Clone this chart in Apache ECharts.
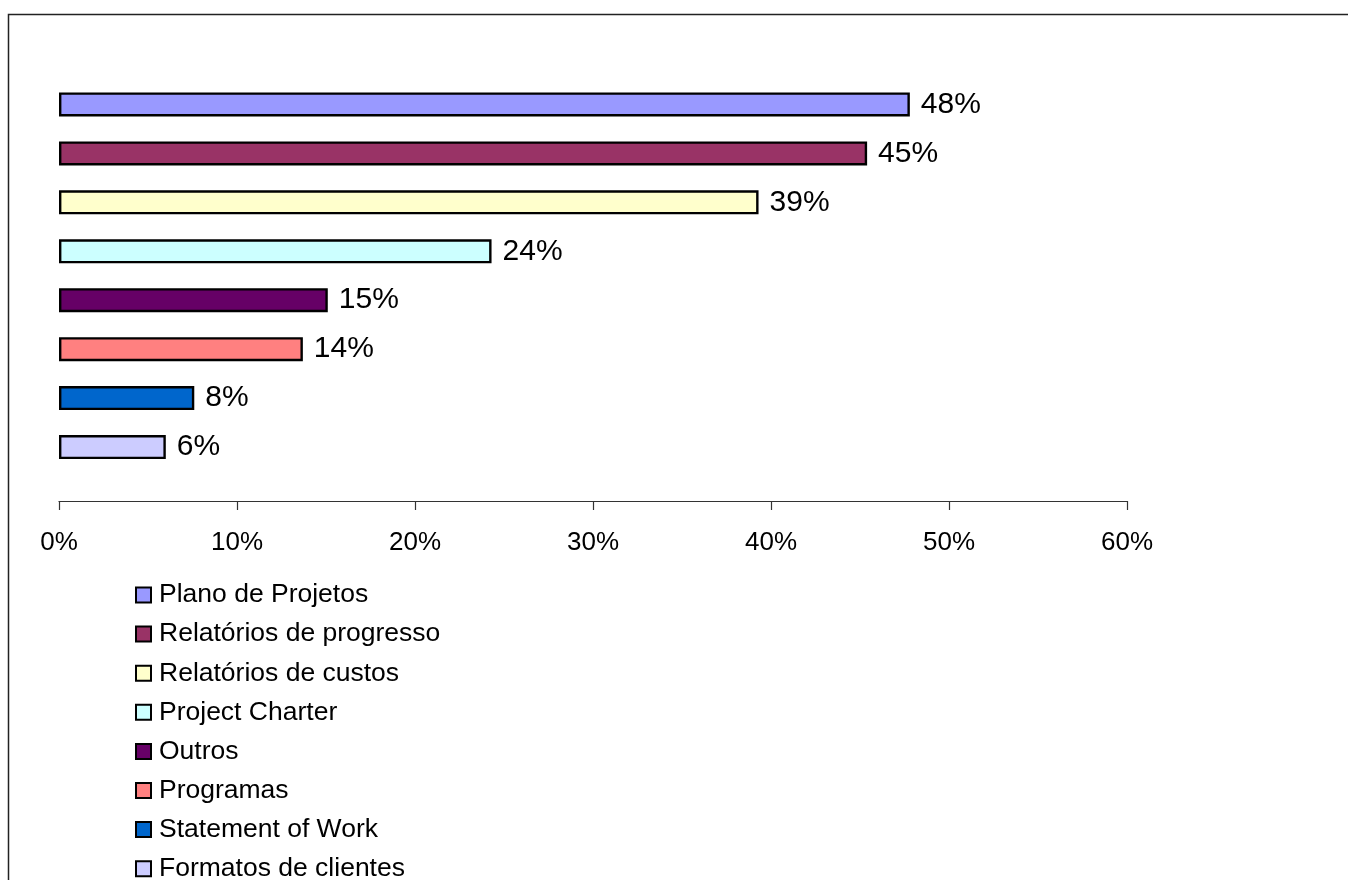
<!DOCTYPE html>
<html>
<head>
<meta charset="utf-8">
<script src="https://cdn.jsdelivr.net/npm/echarts@6/dist/echarts.min.js"></script>
<style>
html,body{margin:0;padding:0;background:#fff;}
#chart{width:1348px;height:880px;}
</style>
</head>
<body>
<div id="chart"></div>
<script>
// Data
const names = ["Plano de Projetos","Relatórios de progresso","Relatórios de custos","Project Charter","Outros","Programas","Statement of Work","Formatos de clientes"];
const values = [0.478, 0.454, 0.393, 0.243, 0.151, 0.137, 0.076, 0.060];
const colors = ["#9999FF","#993366","#FFFFCC","#CCFFFF","#660066","#FF8080","#0066CC","#CCCCFF"];
const xTicks = [0, 0.1, 0.2, 0.3, 0.4, 0.5, 0.6];

const FONT = "'Liberation Sans', Arial, sans-serif";

const series = names.map((n, i) => ({
  name: n,
  type: 'bar',
  barWidth: 24,
  barGap: '-100%',
  data: names.map((_, j) => (j === i ? values[i] : '-')),
  itemStyle: { color: colors[i], borderColor: '#000', borderWidth: 2.4 },
  label: {
    show: true,
    position: 'right',
    distance: 11,
    fontFamily: FONT,
    fontSize: 30,
    color: '#000',
    formatter: p => Math.round(p.value * 100) + '%'
  }
}));

const chart = echarts.init(document.getElementById('chart'), null, { renderer: 'canvas' });
chart.setOption({
  animation: false,
  backgroundColor: '#fff',
  grid: { left: 59, right: 221, top: 80, bottom: 408.5, containLabel: false },
  xAxis: {
    type: 'value',
    min: xTicks[0],
    max: xTicks[xTicks.length - 1],
    interval: 0.1,
    offset: 29.5,
    axisLine: { show: true, lineStyle: { color: '#333', width: 1.2 } },
    axisTick: { show: true, length: 9, lineStyle: { color: '#333', width: 1.2 } },
    splitLine: { show: false },
    axisLabel: {
      margin: 29,
      fontFamily: FONT,
      fontSize: 26,
      color: '#000',
      formatter: v => Math.round(v * 100) + '%'
    }
  },
  yAxis: {
    type: 'category',
    data: names,
    inverse: true,
    axisLine: { show: false },
    axisTick: { show: false },
    axisLabel: { show: false },
    splitLine: { show: false }
  },
  legend: {
    orient: 'vertical',
    left: 135,
    top: 580,
    height: 400,
    padding: 0,
    itemWidth: 15,
    itemHeight: 15,
    itemGap: 9.1,
    icon: 'rect',
    itemStyle: { borderColor: '#000', borderWidth: 2 },
    textStyle: { fontFamily: FONT, fontSize: 26.5, color: '#000', lineHeight: 30, padding: [0, 0, 0, 3] },
    data: names
  },
  graphic: [{
    type: 'rect',
    silent: true,
    shape: { x: 8.5, y: 14.5, width: 1500, height: 1000 },
    style: { fill: null, stroke: '#222', lineWidth: 1.5 },
    z: 100
  }],
  series: series
});
</script>
</body>
</html>
